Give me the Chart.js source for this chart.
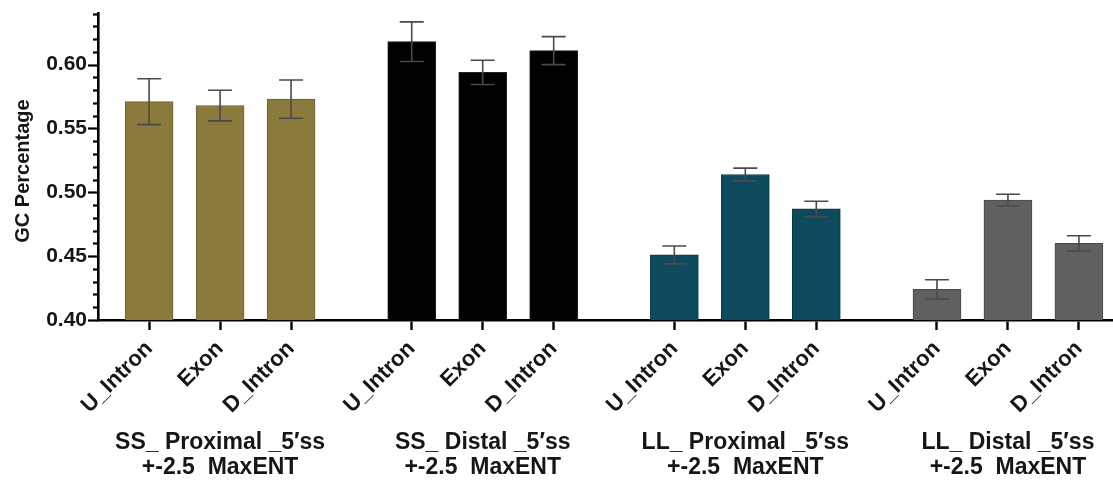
<!DOCTYPE html>
<html>
<head>
<meta charset="utf-8">
<script src="https://cdn.jsdelivr.net/npm/chart.js@4/dist/chart.umd.min.js"></script>
<style>
  html, body { margin: 0; padding: 0; background: #ffffff; }
  #wrap { width: 1113px; height: 483px; position: relative; }
</style>
</head>
<body>
<div id="wrap"><canvas id="gc"></canvas></div>
<script>
// Categories
const regions = ['U_Intron', 'Exon', 'D_Intron'];
const groupNames = [
  ['SS_ Proximal _5\u2032ss', '+-2.5  MaxENT'],
  ['SS_ Distal _5\u2032ss', '+-2.5  MaxENT'],
  ['LL_ Proximal _5\u2032ss', '+-2.5  MaxENT'],
  ['LL_ Distal _5\u2032ss', '+-2.5  MaxENT']
];

// Mean GC fraction per region, one array per group
const ssProximal = [0.571, 0.568, 0.573];
const ssDistal   = [0.618, 0.594, 0.611];
const llProximal = [0.451, 0.514, 0.487];
const llDistal   = [0.424, 0.494, 0.460];

// Error half-widths
const ssProximalErr = [0.018, 0.012, 0.015];
const ssDistalErr   = [0.0155, 0.0095, 0.011];
const llProximalErr = [0.007, 0.005, 0.006];
const llDistalErr   = [0.0075, 0.0045, 0.006];

// Y-axis tick labels
const yTickLabels = [0.40, 0.45, 0.50, 0.55, 0.60];

const groupValues = [ssProximal, ssDistal, llProximal, llDistal];
const groupErrors = [ssProximalErr, ssDistalErr, llProximalErr, llDistalErr];
const groupFill   = ['#8a7a3b', '#000000', '#0e4a5d', '#606060'];
const groupEdge   = ['#6f6230', '#222222', '#0a3a4a', '#4a4a4a'];

// Horizontal layout: bars one unit apart, groups separated by a wider gap
const GROUP_STEP = 3.7;
const pos = (g, i) => g * GROUP_STEP + i;
const barPositions = [];
const barLabels = [];
groupValues.forEach((vals, g) => vals.forEach((_, i) => { barPositions.push(pos(g, i)); barLabels.push(regions[i]); }));
const groupCenters = groupValues.map((_, g) => pos(g, 1));

const FONT = "'Liberation Sans', Arial, sans-serif";
const TEXT = '#161616';

const datasets = groupValues.map((vals, g) => ({
  label: groupNames[g].join(' '),
  data: vals.map((v, i) => ({ x: pos(g, i), y: v })),
  backgroundColor: groupFill[g],
  borderColor: groupEdge[g],
  borderWidth: 1,
  barThickness: 48,
  grouped: false
}));

// Error bars, minor/major y tick marks
const decorations = {
  id: 'decorations',
  afterDatasetsDraw(chart) {
    const { ctx, scales: { x, y } } = chart;
    ctx.save();
    ctx.strokeStyle = '#4a4a4a';
    ctx.lineWidth = 1.6;
    groupValues.forEach((vals, g) => {
      vals.forEach((v, i) => {
        const e = groupErrors[g][i];
        const px = x.getPixelForValue(pos(g, i));
        const top = y.getPixelForValue(v + e);
        const bot = y.getPixelForValue(v - e);
        ctx.beginPath();
        ctx.moveTo(px, top); ctx.lineTo(px, bot);
        ctx.moveTo(px - 12, top); ctx.lineTo(px + 12, top);
        ctx.moveTo(px - 12, bot); ctx.lineTo(px + 12, bot);
        ctx.stroke();
      });
    });
    ctx.restore();
  },
  afterDraw(chart) {
    const { ctx, scales: { y } } = chart;
    const left = chart.chartArea.left;
    ctx.save();
    ctx.strokeStyle = '#000000';
    ctx.lineWidth = 2.2;
    y.ticks.forEach(t => {
      const isMajor = yTickLabels.some(m => Math.abs(m - t.value) < 1e-6);
      const len = isMajor ? 10 : 5;
      const py = Math.round(y.getPixelForValue(t.value)) + 0.5;
      ctx.beginPath();
      ctx.moveTo(left - len, py); ctx.lineTo(left, py);
      ctx.stroke();
    });
    ctx.restore();
  }
};

new Chart(document.getElementById('gc'), {
  type: 'bar',
  data: { datasets },
  options: {
    responsive: true,
    maintainAspectRatio: false,
    animation: false,
    devicePixelRatio: 1,
    layout: { padding: { left: 0, right: 0, top: 0, bottom: 0 } },
    plugins: { legend: { display: false }, tooltip: { enabled: false } },
    scales: {
      x: {
        type: 'linear',
        position: 'bottom',
        weight: 0,
        min: -0.72,
        max: 13.58,
        offset: false,
        afterBuildTicks: s => { s.ticks = barPositions.map(v => ({ value: v })); },
        afterFit: s => { s.height = 106; },
        border: { display: true, color: '#000000', width: 2.6 },
        grid: { display: true, drawOnChartArea: false, offset: false, drawTicks: true,
                tickLength: 10, tickWidth: 2.4, tickColor: '#000000' },
        ticks: {
          autoSkip: false, minRotation: 45, maxRotation: 45, padding: 6,
          color: TEXT, font: { family: FONT, size: 22, weight: 'bold' },
          callback: (v, i) => barLabels[i]
        }
      },
      xg: {
        type: 'linear',
        position: 'bottom',
        weight: 1,
        min: -0.72,
        max: 13.58,
        offset: false,
        afterBuildTicks: s => { s.ticks = groupCenters.map(v => ({ value: v })); },
        afterFit: s => { s.height = 57; },
        border: { display: false },
        grid: { display: false, drawTicks: false },
        ticks: {
          autoSkip: false, maxRotation: 0, minRotation: 0, padding: 5,
          color: TEXT, font: { family: FONT, size: 23, weight: 'bold', lineHeight: 1.05 },
          callback: (v, i) => groupNames[i]
        }
      },
      y: {
        min: 0.40,
        max: 0.64,
        afterBuildTicks: s => {
          const t = [];
          for (let k = 0; k <= 24; k++) t.push({ value: Math.round((0.40 + k * 0.01) * 100) / 100 });
          s.ticks = t;
        },
        afterFit: s => { s.width = 98; },
        border: { display: true, color: '#000000', width: 2.6 },
        grid: { display: true, drawOnChartArea: false, drawTicks: true, tickLength: 10, tickColor: 'rgba(0,0,0,0)' },
        ticks: {
          autoSkip: false, padding: 1,
          color: TEXT, font: { family: FONT, size: 21, weight: 'bold' },
          callback: v => {
            const m = yTickLabels.find(l => Math.abs(l - v) < 1e-6);
            return m === undefined ? '' : m.toFixed(2);
          }
        }
      }
    }
  },
  plugins: [decorations, {
    // Rotated y-axis title
    id: 'yTitle',
    afterDraw(chart) {
      const { ctx } = chart;
      ctx.save();
      ctx.fillStyle = TEXT;
      ctx.font = "bold 20px 'Liberation Sans', Arial, sans-serif";
      ctx.textAlign = 'center';
      ctx.textBaseline = 'middle';
      ctx.translate(23, 171);
      ctx.rotate(-Math.PI / 2);
      ctx.fillText('GC Percentage', 0, 0);
      ctx.restore();
    }
  }]
});
</script>
</body>
</html>
